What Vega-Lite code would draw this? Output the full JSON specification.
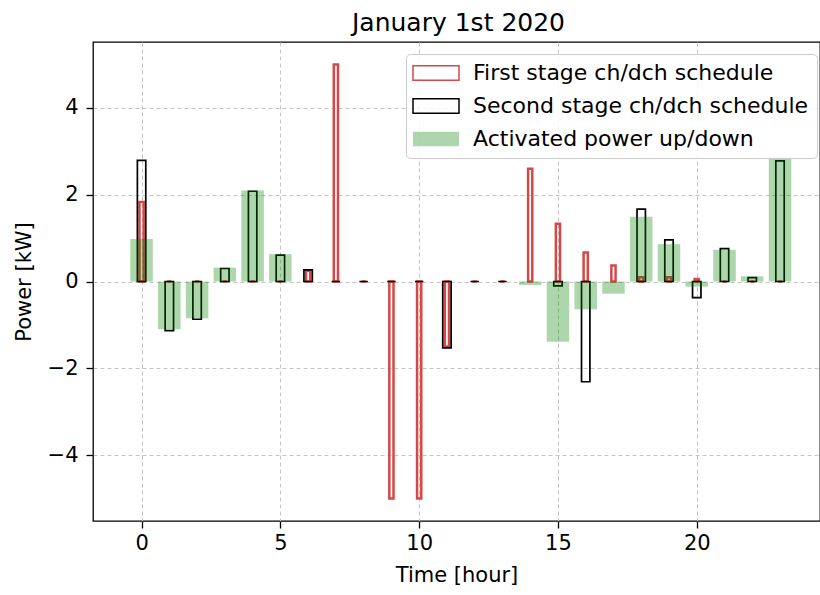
{
  "$schema": "https://vega.github.io/schema/vega-lite/v6.json",
  "width": 727,
  "height": 479,
  "autosize": {"type": "none"},
  "padding": {"left": 93, "top": 42, "right": 0, "bottom": 74},
  "background": "white",
  "title": {"text": "January 1st 2020", "fontSize": 25, "font": "DejaVu Sans", "fontWeight": "normal", "color": "#000", "anchor": "middle", "offset": 6, "dx": 2},
  "config": {
    "view": {"stroke": "#000", "strokeWidth": 1.3},
    "font": "DejaVu Sans",
    "axis": {
      "labelFont": "DejaVu Sans", "titleFont": "DejaVu Sans",
      "labelFontSize": 21, "titleFontSize": 21, "titleFontWeight": "normal",
      "labelColor": "#000", "titleColor": "#000",
      "tickSize": 7, "tickWidth": 1.3, "tickColor": "#000",
      "domain": false,
      "grid": true, "gridDash": [4, 3], "gridColor": "#c4c4c4", "gridWidth": 1
    }
  },
  "data": {"values": [
    {"hour": 0, "series": "First stage ch/dch schedule", "value": 1.83},
    {"hour": 1, "series": "First stage ch/dch schedule", "value": 0},
    {"hour": 2, "series": "First stage ch/dch schedule", "value": 0},
    {"hour": 3, "series": "First stage ch/dch schedule", "value": 0},
    {"hour": 4, "series": "First stage ch/dch schedule", "value": 0},
    {"hour": 5, "series": "First stage ch/dch schedule", "value": 0},
    {"hour": 6, "series": "First stage ch/dch schedule", "value": 0.25},
    {"hour": 7, "series": "First stage ch/dch schedule", "value": 5},
    {"hour": 8, "series": "First stage ch/dch schedule", "value": 0},
    {"hour": 9, "series": "First stage ch/dch schedule", "value": -5},
    {"hour": 10, "series": "First stage ch/dch schedule", "value": -5},
    {"hour": 11, "series": "First stage ch/dch schedule", "value": -1.5},
    {"hour": 12, "series": "First stage ch/dch schedule", "value": 0},
    {"hour": 13, "series": "First stage ch/dch schedule", "value": 0},
    {"hour": 14, "series": "First stage ch/dch schedule", "value": 2.6},
    {"hour": 15, "series": "First stage ch/dch schedule", "value": 1.33},
    {"hour": 16, "series": "First stage ch/dch schedule", "value": 0.67},
    {"hour": 17, "series": "First stage ch/dch schedule", "value": 0.37},
    {"hour": 18, "series": "First stage ch/dch schedule", "value": 0.1},
    {"hour": 19, "series": "First stage ch/dch schedule", "value": 0.1},
    {"hour": 20, "series": "First stage ch/dch schedule", "value": 0.06},
    {"hour": 21, "series": "First stage ch/dch schedule", "value": 0},
    {"hour": 22, "series": "First stage ch/dch schedule", "value": 0},
    {"hour": 23, "series": "First stage ch/dch schedule", "value": 0},
    {"hour": 0, "series": "Second stage ch/dch schedule", "value": 2.79},
    {"hour": 1, "series": "Second stage ch/dch schedule", "value": -1.13},
    {"hour": 2, "series": "Second stage ch/dch schedule", "value": -0.87},
    {"hour": 3, "series": "Second stage ch/dch schedule", "value": 0.3},
    {"hour": 4, "series": "Second stage ch/dch schedule", "value": 2.08},
    {"hour": 5, "series": "Second stage ch/dch schedule", "value": 0.61},
    {"hour": 6, "series": "Second stage ch/dch schedule", "value": 0.27},
    {"hour": 7, "series": "Second stage ch/dch schedule", "value": 0},
    {"hour": 8, "series": "Second stage ch/dch schedule", "value": 0},
    {"hour": 9, "series": "Second stage ch/dch schedule", "value": 0},
    {"hour": 10, "series": "Second stage ch/dch schedule", "value": 0},
    {"hour": 11, "series": "Second stage ch/dch schedule", "value": -1.53},
    {"hour": 12, "series": "Second stage ch/dch schedule", "value": 0},
    {"hour": 13, "series": "Second stage ch/dch schedule", "value": 0},
    {"hour": 15, "series": "Second stage ch/dch schedule", "value": -0.1},
    {"hour": 16, "series": "Second stage ch/dch schedule", "value": -2.31},
    {"hour": 18, "series": "Second stage ch/dch schedule", "value": 1.67},
    {"hour": 19, "series": "Second stage ch/dch schedule", "value": 0.96},
    {"hour": 20, "series": "Second stage ch/dch schedule", "value": -0.37},
    {"hour": 21, "series": "Second stage ch/dch schedule", "value": 0.76},
    {"hour": 22, "series": "Second stage ch/dch schedule", "value": 0.09},
    {"hour": 23, "series": "Second stage ch/dch schedule", "value": 2.78},
    {"hour": 0, "series": "Activated power up/down", "value": 0.98},
    {"hour": 1, "series": "Activated power up/down", "value": -1.1},
    {"hour": 2, "series": "Activated power up/down", "value": -0.85},
    {"hour": 3, "series": "Activated power up/down", "value": 0.32},
    {"hour": 4, "series": "Activated power up/down", "value": 2.1},
    {"hour": 5, "series": "Activated power up/down", "value": 0.63},
    {"hour": 6, "series": "Activated power up/down", "value": 0},
    {"hour": 7, "series": "Activated power up/down", "value": 0},
    {"hour": 8, "series": "Activated power up/down", "value": 0},
    {"hour": 9, "series": "Activated power up/down", "value": 0},
    {"hour": 10, "series": "Activated power up/down", "value": 0},
    {"hour": 11, "series": "Activated power up/down", "value": 0},
    {"hour": 12, "series": "Activated power up/down", "value": 0},
    {"hour": 13, "series": "Activated power up/down", "value": 0},
    {"hour": 14, "series": "Activated power up/down", "value": -0.08},
    {"hour": 15, "series": "Activated power up/down", "value": -1.39},
    {"hour": 16, "series": "Activated power up/down", "value": -0.64},
    {"hour": 17, "series": "Activated power up/down", "value": -0.28},
    {"hour": 18, "series": "Activated power up/down", "value": 1.49},
    {"hour": 19, "series": "Activated power up/down", "value": 0.86},
    {"hour": 20, "series": "Activated power up/down", "value": -0.12},
    {"hour": 21, "series": "Activated power up/down", "value": 0.73},
    {"hour": 22, "series": "Activated power up/down", "value": 0.12},
    {"hour": 23, "series": "Activated power up/down", "value": 2.88}
  ]},
  "encoding": {
    "x": {"field": "hour", "type": "quantitative", "scale": {"domain": [-1.57, 24.26], "nice": false, "zero": false},
      "axis": {"values": [0, 5, 10, 15, 20], "format": "d", "title": "Time [hour]", "labelPadding": 4, "titlePadding": 11}},
    "y": {"field": "value", "type": "quantitative", "scale": {"domain": [-5.52, 5.52], "nice": false},
      "axis": {"values": [-4, -2, 0, 2, 4], "format": "d", "title": "Power [kW]", "labelPadding": 8, "titlePadding": 13}},
    "fill": {"field": "series", "type": "nominal",
      "scale": {"domain": ["First stage ch/dch schedule", "Second stage ch/dch schedule", "Activated power up/down"], "range": ["transparent", "transparent", "rgba(0,128,0,0.32)"]},
      "legend": {"title": null, "orient": "none", "legendX": 313, "legendY": 12, "padding": 8, "fillColor": "rgba(255,255,255,0.85)", "strokeColor": "#cccccc", "cornerRadius": 4, "symbolType": "M-2.875,-0.9L2.875,-0.9L2.875,0.9L-2.875,0.9Z", "symbolSize": 256, "symbolStrokeWidth": 1.5, "symbolOffset": 11, "labelOffset": 26, "rowPadding": 11, "labelFontSize": 22, "labelFont": "DejaVu Sans", "labelColor": "#000", "labelLimit": 600}},
    "stroke": {"field": "series", "type": "nominal",
      "scale": {"domain": ["First stage ch/dch schedule", "Second stage ch/dch schedule", "Activated power up/down"], "range": ["#d64848", "#000000", "transparent"]},
      "legend": {"title": null, "orient": "none", "legendX": 313, "legendY": 12, "padding": 8, "fillColor": "rgba(255,255,255,0.85)", "strokeColor": "#cccccc", "cornerRadius": 4, "symbolType": "M-2.875,-0.9L2.875,-0.9L2.875,0.9L-2.875,0.9Z", "symbolSize": 256, "symbolStrokeWidth": 1.5, "symbolOffset": 11, "labelOffset": 26, "rowPadding": 11, "labelFontSize": 22, "labelFont": "DejaVu Sans", "labelColor": "#000", "labelLimit": 600}}
  },
  "layer": [
    {"transform": [{"filter": "datum.series === 'First stage ch/dch schedule'"}],
     "mark": {"type": "bar", "orient": "vertical", "width": 4.2, "strokeWidth": 2.5, "clip": true}},
    {"transform": [{"filter": "datum.series === 'Second stage ch/dch schedule'"}],
     "mark": {"type": "bar", "orient": "vertical", "width": 8.4, "strokeWidth": 1.7, "clip": true}},
    {"transform": [{"filter": "datum.series === 'Activated power up/down'"}],
     "mark": {"type": "bar", "orient": "vertical", "width": 22.5, "strokeWidth": 0, "clip": true}}
  ]
}
